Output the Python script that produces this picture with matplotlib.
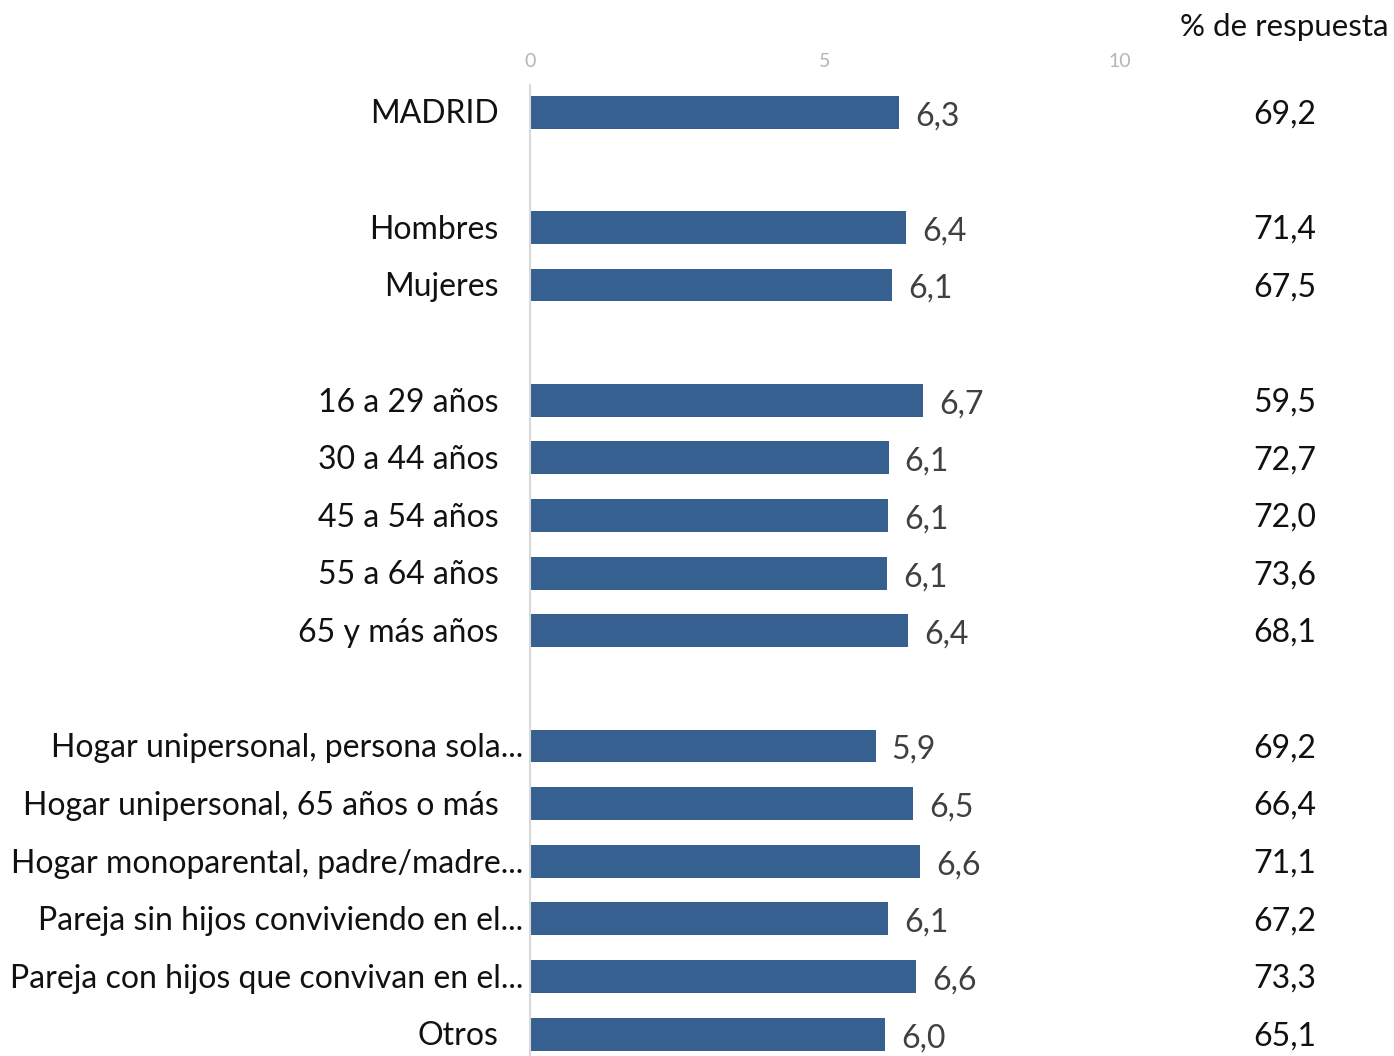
import matplotlib
matplotlib.use("Agg")
import matplotlib.pyplot as plt
from matplotlib.transforms import blended_transform_factory

plt.rcParams['font.family'] = ['Lato', 'DejaVu Sans']

# data
categories = [
    "MADRID",
    "Hombres", "Mujeres",
    "16 a 29 años", "30 a 44 años", "45 a 54 años", "55 a 64 años", "65 y más años",
    "Hogar unipersonal, persona sola...", "Hogar unipersonal, 65 años o más",
    "Hogar monoparental, padre/madre...", "Pareja sin hijos conviviendo en el...",
    "Pareja con hijos que convivan en el...", "Otros",
]
rows = [0, 2, 3, 5, 6, 7, 8, 9, 11, 12, 13, 14, 15, 16]
scores = [6.26, 6.37, 6.14, 6.66, 6.08, 6.07, 6.05, 6.41, 5.86, 6.49, 6.61, 6.07, 6.54, 6.02]
score_labels = ["6,3", "6,4", "6,1", "6,7", "6,1", "6,1", "6,1", "6,4",
                "5,9", "6,5", "6,6", "6,1", "6,6", "6,0"]
response_pct = ["69,2", "71,4", "67,5", "59,5", "72,7", "72,0", "73,6", "68,1",
                "69,2", "66,4", "71,1", "67,2", "73,3", "65,1"]
x_ticks = [0, 5, 10]

BAR_COLOR = "#36608f"
FS = 23

fig = plt.figure(figsize=(13.94, 10.56), dpi=100)
ax = fig.add_axes([530 / 1394, 0.0, 590 / 1394, 971 / 1056])

ax.barh(rows, scores, height=0.57, color=BAR_COLOR)
ax.set_xlim(0, 10)
ax.set_ylim(16.38, -0.47)

ax.xaxis.tick_top()
ax.set_xticks(x_ticks)
ax.set_xticklabels([str(t) for t in x_ticks])
ax.tick_params(axis='x', length=0, pad=11, labelsize=14, labelcolor="#b5b5b5")
ax.set_yticks([])

for side in ("top", "right", "bottom"):
    ax.spines[side].set_visible(False)
ax.spines["left"].set_color("#d9d9d9")
ax.spines["left"].set_linewidth(1.5)

trans_lbl = ax.get_yaxis_transform()
for r, cat in zip(rows, categories):
    # truncated labels hang their ellipsis past the label column
    x_off = -0.012 if cat.endswith("...") else -0.053
    ax.text(x_off, r + 0.04, cat, transform=trans_lbl, ha="right", va="center",
            fontsize=FS, color="#111111", clip_on=False)

for r, v, lbl in zip(rows, scores, score_labels):
    ax.text(v + 0.27, r + 0.07, lbl, ha="left", va="center",
            fontsize=FS, color="#404040", clip_on=False)

trans_pct = blended_transform_factory(fig.transFigure, ax.transData)
for r, pct in zip(rows, response_pct):
    fig.text(1316 / 1394, r + 0.04, pct, ha="right", va="center", fontsize=FS,
             color="#111111", transform=trans_pct)

fig.text(1388 / 1394, 1 - 27 / 1056, "% de respuesta", ha="right", va="center",
         fontsize=22.5, color="#111111")

fig.savefig("out.png", dpi=100, facecolor="white")
